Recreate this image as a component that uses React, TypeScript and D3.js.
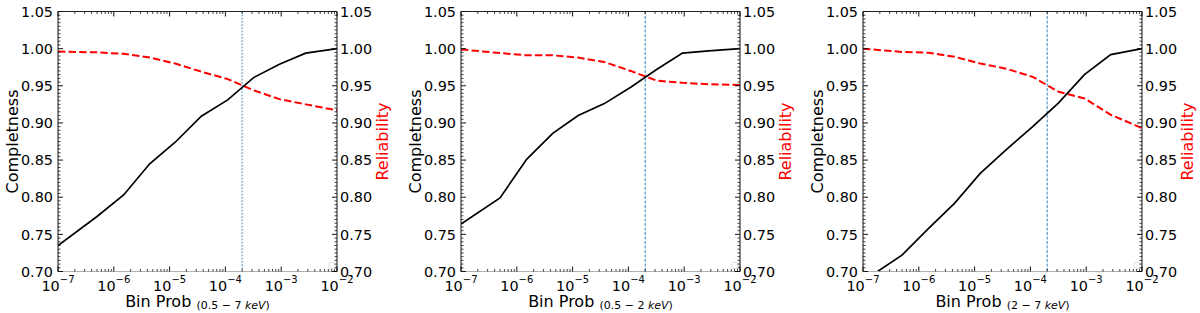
import React, { useEffect, useRef } from "react";
import * as d3 from "d3";

// detection threshold on binomial probability, sampled at these points
const binProb = [1e-7, 5e-7, 1.5e-6, 4.4e-6, 1.26e-5, 3.7e-5, 1.1e-4, 3.2e-4, 9.3e-4, 2.75e-3, 1e-2];

const completenessBroad = [0.735, 0.774, 0.803, 0.845, 0.874, 0.909, 0.931, 0.961, 0.979, 0.994, 1.0];
const reliabilityBroad = [0.996, 0.995, 0.993, 0.988, 0.98, 0.969, 0.959, 0.944, 0.932, 0.925, 0.917];

const completenessSoft = [0.764, 0.799, 0.851, 0.886, 0.91, 0.926, 0.948, 0.972, 0.994, 0.997, 1.0];
const reliabilitySoft = [0.999, 0.994, 0.991, 0.991, 0.988, 0.982, 0.97, 0.957, 0.954, 0.952, 0.951];

const completenessHard = [0.687, 0.722, 0.758, 0.792, 0.832, 0.864, 0.895, 0.927, 0.965, 0.992, 1.0];
const reliabilityHard = [1.0, 0.9955, 0.9945, 0.989, 0.98, 0.973, 0.962, 0.942, 0.933, 0.911, 0.893];

const bandLabels = ["0.5 \u2212 7", "0.5 \u2212 2", "2 \u2212 7"];
const yTicks = [0.7, 0.75, 0.8, 0.85, 0.9, 0.95, 1.0, 1.05];
const xTickExps = [-7, -6, -5, -4, -3, -2];
const cutProb = 2e-4;

const panelLefts = [58, 461, 863];
const plotW = 279;
const plotTop = 11.5;
const plotBottom = 271.5;
const FONT = "DejaVu Sans, sans-serif";

function drawPanel(svg: any, idx: number, comp: number[], rel: number[], band: string) {
  const left = panelLefts[idx];
  const right = left + plotW;
  const x = d3.scaleLog().domain([1e-7, 1e-2]).range([left, right]);
  const y = d3.scaleLinear().domain([0.7, 1.05]).range([plotBottom, plotTop]);

  const g = svg.append("g");
  const clipId = "clip" + idx;
  g.append("clipPath").attr("id", clipId)
    .append("rect").attr("x", left).attr("y", plotTop).attr("width", plotW).attr("height", plotBottom - plotTop);

  // threshold line
  g.append("line")
    .attr("x1", x(cutProb)).attr("x2", x(cutProb))
    .attr("y1", plotTop).attr("y2", plotBottom)
    .attr("stroke", "#1f77b4")
    .attr("stroke-opacity", idx === 0 ? 0.55 : 0.9)
    .attr("stroke-width", idx === 0 ? 1.7 : 1)
    .attr("stroke-dasharray", idx === 0 ? "1.6,1.6" : "3,1.5");

  const line = d3.line<number>().x((d, i) => x(binProb[i])).y((d) => y(d));

  g.append("path").datum(rel)
    .attr("clip-path", `url(#${clipId})`)
    .attr("d", line).attr("fill", "none")
    .attr("stroke", "#ff0000").attr("stroke-width", 2)
    .attr("stroke-dasharray", "7.4,3.2");

  g.append("path").datum(comp)
    .attr("clip-path", `url(#${clipId})`)
    .attr("d", line).attr("fill", "none")
    .attr("stroke", "#000").attr("stroke-width", 1.7);

  // empty legend frame
  g.append("rect")
    .attr("x", right - 8).attr("y", plotBottom - 9)
    .attr("width", 6).attr("height", 6).attr("rx", 1)
    .attr("fill", "#fff").attr("stroke", "#d8d8d8").attr("stroke-width", 0.8);

  // spines
  g.append("line").attr("x1", left).attr("x2", right).attr("y1", plotBottom).attr("y2", plotBottom)
    .attr("stroke", "#b0b0b0").attr("stroke-width", 1);
  g.append("line").attr("x1", left).attr("x2", right).attr("y1", plotTop).attr("y2", plotTop)
    .attr("stroke", "#222").attr("stroke-width", 1);
  g.append("line").attr("x1", left).attr("x2", left).attr("y1", plotTop).attr("y2", plotBottom)
    .attr("stroke", "#111").attr("stroke-width", 1);
  g.append("line").attr("x1", right).attr("x2", right).attr("y1", plotTop).attr("y2", plotBottom)
    .attr("stroke", "#111").attr("stroke-width", 1);

  // y ticks, both sides, pointing in
  const yMinor = d3.range(0, 71).map((k) => 0.7 + k * 0.005)
    .filter((v) => !yTicks.some((t) => Math.abs(t - v) < 1e-6));
  yMinor.forEach((v) => {
    g.append("line").attr("x1", left).attr("x2", left + 2.5).attr("y1", y(v)).attr("y2", y(v))
      .attr("stroke", "#111").attr("stroke-width", 0.8);
    g.append("line").attr("x1", right).attr("x2", right - 2.5).attr("y1", y(v)).attr("y2", y(v))
      .attr("stroke", "#111").attr("stroke-width", 0.8);
  });
  yTicks.forEach((v) => {
    g.append("line").attr("x1", left).attr("x2", left + 5).attr("y1", y(v)).attr("y2", y(v))
      .attr("stroke", "#111").attr("stroke-width", 1);
    g.append("line").attr("x1", right).attr("x2", right - 5).attr("y1", y(v)).attr("y2", y(v))
      .attr("stroke", "#111").attr("stroke-width", 1);
    g.append("text").attr("x", left - 5).attr("y", y(v)).attr("dy", "0.36em")
      .attr("text-anchor", "end").attr("font-family", FONT).attr("font-size", 14.4)
      .attr("fill", "#000").text(v.toFixed(2));
    g.append("text").attr("x", right + 3).attr("y", y(v)).attr("dy", "0.36em")
      .attr("text-anchor", "start").attr("font-family", FONT).attr("font-size", 14.4)
      .attr("fill", "#000").text(v.toFixed(2));
  });

  // x ticks, top and bottom, pointing in
  xTickExps.slice(0, -1).forEach((e) => {
    d3.range(2, 10).forEach((k) => {
      const xv = x(k * Math.pow(10, e));
      g.append("line").attr("x1", xv).attr("x2", xv).attr("y1", plotBottom).attr("y2", plotBottom - 2.5)
        .attr("stroke", "#111").attr("stroke-width", 0.8);
      g.append("line").attr("x1", xv).attr("x2", xv).attr("y1", plotTop).attr("y2", plotTop + 2.5)
        .attr("stroke", "#111").attr("stroke-width", 0.8);
    });
  });
  xTickExps.forEach((e) => {
    const xv = x(Math.pow(10, e));
    g.append("line").attr("x1", xv).attr("x2", xv).attr("y1", plotBottom).attr("y2", plotBottom - 5)
      .attr("stroke", "#111").attr("stroke-width", 1);
    g.append("line").attr("x1", xv).attr("x2", xv).attr("y1", plotTop).attr("y2", plotTop + 5)
      .attr("stroke", "#111").attr("stroke-width", 1);
    const t = g.append("text").attr("x", xv).attr("y", 291)
      .attr("text-anchor", "middle").attr("font-family", FONT).attr("font-size", 14.4).attr("fill", "#000");
    t.append("tspan").text("10");
    t.append("tspan").attr("dy", -8).attr("font-size", 10).text("\u2212" + Math.abs(e));
  });

  // axis titles
  const xl = g.append("text").attr("x", (left + right) / 2).attr("y", 306.5)
    .attr("text-anchor", "middle").attr("font-family", FONT).attr("font-size", 16).attr("fill", "#000");
  xl.append("tspan").text("Bin Prob ");
  xl.append("tspan").attr("dy", 2).attr("font-size", 11).text("(" + band + " ");
  xl.append("tspan").attr("font-size", 11).attr("font-style", "italic").text("keV");
  xl.append("tspan").attr("font-size", 11).text(")");

  const yc = (plotTop + plotBottom) / 2;
  g.append("text").attr("transform", `translate(${left - 40.5},${yc}) rotate(-90)`)
    .attr("text-anchor", "middle").attr("font-family", FONT).attr("font-size", 16)
    .attr("fill", "#000").text("Completness");
  g.append("text").attr("transform", `translate(${right + 51},${yc}) rotate(-90)`)
    .attr("text-anchor", "middle").attr("font-family", FONT).attr("font-size", 16)
    .attr("fill", "#ff0000").text("Reliability");
}

export default function App() {
  const ref = useRef<SVGSVGElement>(null);

  useEffect(() => {
    const svg = d3.select(ref.current);
    svg.selectAll("*").remove();
    drawPanel(svg, 0, completenessBroad, reliabilityBroad, bandLabels[0]);
    drawPanel(svg, 1, completenessSoft, reliabilitySoft, bandLabels[1]);
    drawPanel(svg, 2, completenessHard, reliabilityHard, bandLabels[2]);
  }, []);

  return (
    <svg
      ref={ref}
      width={1200}
      height={313}
      style={{ position: "absolute", left: 0, top: 0, background: "#fff" }}
    />
  );
}
